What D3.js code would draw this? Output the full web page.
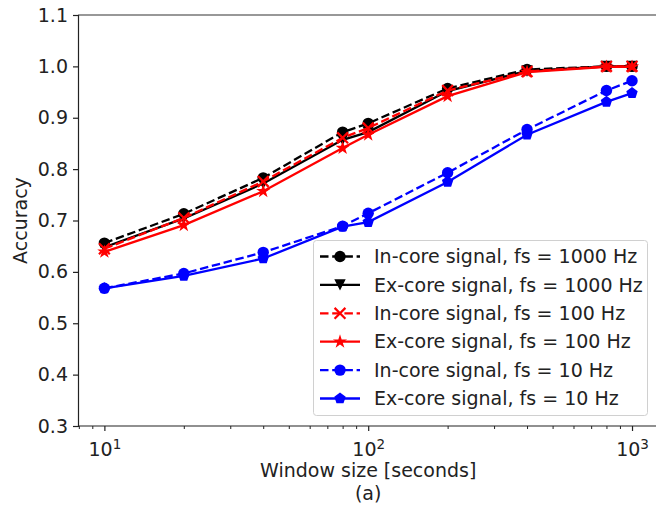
<!DOCTYPE html>
<html>
<head>
<meta charset="utf-8">
<script src="https://cdn.jsdelivr.net/npm/d3@7"></script>
<style>
  html, body { margin: 0; padding: 0; background: #fff; }
  svg { display: block; font-family: "DejaVu Sans", sans-serif; }
</style>
</head>
<body>
<svg id="chart" width="656" height="509"></svg>
<script>
// Window sizes in seconds
const windowSizes = [10, 20, 40, 80, 100, 200, 400, 800, 1000];

// Accuracy for each signal / sampling-rate combination
const inCore1000 = [0.656, 0.713, 0.783, 0.872, 0.889, 0.957, 0.994, 1.000, 1.000];
const exCore1000 = [0.648, 0.704, 0.772, 0.857, 0.872, 0.952, 0.991, 1.000, 1.000];
const inCore100  = [0.645, 0.705, 0.776, 0.861, 0.880, 0.953, 0.990, 1.000, 1.000];
const exCore100  = [0.639, 0.691, 0.757, 0.841, 0.867, 0.942, 0.989, 0.999, 0.999];
const inCore10   = [0.568, 0.597, 0.638, 0.689, 0.714, 0.793, 0.877, 0.953, 0.972];
const exCore10   = [0.568, 0.592, 0.626, 0.688, 0.697, 0.775, 0.867, 0.931, 0.948];

const seriesNames = [
  "In-core signal, fs = 1000 Hz",
  "Ex-core signal, fs = 1000 Hz",
  "In-core signal, fs = 100 Hz",
  "Ex-core signal, fs = 100 Hz",
  "In-core signal, fs = 10 Hz",
  "Ex-core signal, fs = 10 Hz"
];
const seriesValues = [inCore1000, exCore1000, inCore100, exCore100, inCore10, exCore10];

const yTicks = [0.3, 0.4, 0.5, 0.6, 0.7, 0.8, 0.9, 1.0, 1.1];
const xTicks = [10, 100, 1000];
const xMinorTicks = [8, 9, 20, 30, 40, 50, 60, 70, 80, 90, 200, 300, 400, 500, 600, 700, 800, 900];

const styles = [
  { color: "#000000", dashed: true,  marker: "circle" },
  { color: "#000000", dashed: false, marker: "triangleDown" },
  { color: "#ff0000", dashed: true,  marker: "x" },
  { color: "#ff0000", dashed: false, marker: "star" },
  { color: "#0000ff", dashed: true,  marker: "circle" },
  { color: "#0000ff", dashed: false, marker: "pentagon" }
];

const svg = d3.select("#chart");
const plot = { left: 78, right: 658.4, top: 15, bottom: 426 };
const fontSize = 19;

const x = d3.scaleLog().domain([Math.pow(10, 0.9), Math.pow(10, 3.1)]).range([plot.left, plot.right]);
const y = d3.scaleLinear().domain([0.3, 1.1]).range([plot.bottom, plot.top]);

svg.append("defs").append("clipPath").attr("id", "plotClip")
  .append("rect")
  .attr("x", plot.left).attr("y", plot.top - 6)
  .attr("width", plot.right - plot.left).attr("height", plot.bottom - plot.top + 6);

const dashPattern = "8.5,3.7";
const lw = 2.3;

function drawMarker(g, type, cx, cy, color) {
  const s = 5.7;
  if (type === "circle") {
    g.append("circle").attr("cx", cx).attr("cy", cy).attr("r", s).attr("fill", color);
  } else if (type === "triangleDown") {
    g.append("path")
      .attr("d", `M${cx - s},${cy - s}L${cx + s},${cy - s}L${cx},${cy + s}Z`)
      .attr("fill", color);
  } else if (type === "x") {
    const d = s * 0.95;
    g.append("path")
      .attr("d", `M${cx - d},${cy - d}L${cx + d},${cy + d}M${cx - d},${cy + d}L${cx + d},${cy - d}`)
      .attr("stroke", color).attr("stroke-width", 2.2).attr("fill", "none");
  } else if (type === "star") {
    g.append("path")
      .attr("d", d3.symbol().type(d3.symbolStar).size(62)())
      .attr("transform", `translate(${cx},${cy})`)
      .attr("fill", color);
  } else if (type === "pentagon") {
    const pts = d3.range(5).map(i => {
      const a = -Math.PI / 2 + i * 2 * Math.PI / 5;
      return [cx + s * 1.05 * Math.cos(a), cy + s * 1.05 * Math.sin(a)];
    });
    g.append("path").attr("d", "M" + pts.join("L") + "Z").attr("fill", color);
  }
}

// Series lines and markers
const dataLayer = svg.append("g").attr("clip-path", "url(#plotClip)");
const line = d3.line().x(d => x(d[0])).y(d => y(d[1]));

seriesValues.forEach((vals, i) => {
  const st = styles[i];
  const pts = windowSizes.map((w, j) => [w, vals[j]]);
  const g = dataLayer.append("g");
  g.append("path")
    .datum(pts)
    .attr("d", line)
    .attr("fill", "none")
    .attr("stroke", st.color)
    .attr("stroke-width", lw)
    .attr("stroke-dasharray", st.dashed ? dashPattern : null);
  pts.forEach(p => drawMarker(g, st.marker, x(p[0]), y(p[1]), st.color));
});

// Spines
svg.append("line").attr("x1", plot.left).attr("x2", plot.right).attr("y1", plot.top).attr("y2", plot.top)
  .attr("stroke", "#333").attr("stroke-width", 1.2);
svg.append("line").attr("x1", plot.right).attr("x2", plot.right).attr("y1", plot.top).attr("y2", plot.bottom)
  .attr("stroke", "#333").attr("stroke-width", 1.2);

// Y axis
const yAxis = d3.axisLeft(y).tickValues(yTicks).tickFormat(d3.format(".1f")).tickSize(5).tickPadding(5);
const yg = svg.append("g").attr("transform", `translate(${plot.left},0)`).call(yAxis);
yg.select(".domain").attr("stroke", "#222").attr("stroke-width", 1.2);
yg.selectAll(".tick line").attr("stroke", "#222").attr("stroke-width", 1.2);
yg.selectAll(".tick text").attr("font-size", fontSize).attr("fill", "#222").attr("font-family", "DejaVu Sans");

// X axis (log) with superscript exponents
const xAxis = d3.axisBottom(x).tickValues(xTicks).tickFormat("").tickSize(5);
const xg = svg.append("g").attr("transform", `translate(0,${plot.bottom})`).call(xAxis);
xg.select(".domain").attr("stroke", "#222").attr("stroke-width", 1.2).attr("d", `M${plot.left},0H${plot.right}`);
xg.selectAll(".tick line").attr("stroke", "#222").attr("stroke-width", 1.2);
xg.selectAll(".tick").each(function(d) {
  const t = d3.select(this).append("text")
    .attr("y", 30).attr("text-anchor", "middle")
    .attr("fill", "#222").attr("font-size", fontSize).attr("font-family", "DejaVu Sans");
  t.append("tspan").text("10");
  t.append("tspan").attr("dy", -7).attr("font-size", 13.5).text(String(Math.round(Math.log10(d))));
});
const xMinor = d3.axisBottom(x).tickValues(xMinorTicks).tickFormat("").tickSize(3);
const xmg = svg.append("g").attr("transform", `translate(0,${plot.bottom})`).call(xMinor);
xmg.select(".domain").remove();
xmg.selectAll(".tick line").attr("stroke", "#222");

// Axis titles
svg.append("text")
  .attr("x", (x(10) + x(1000)) / 2).attr("y", 477)
  .attr("text-anchor", "middle").attr("font-size", fontSize).attr("fill", "#222")
  .text("Window size [seconds]");
svg.append("text")
  .attr("x", (x(10) + x(1000)) / 2).attr("y", 500)
  .attr("text-anchor", "middle").attr("font-size", fontSize).attr("fill", "#222")
  .text("(a)");
svg.append("text")
  .attr("transform", `translate(27,${(plot.top + plot.bottom) / 2}) rotate(-90)`)
  .attr("text-anchor", "middle").attr("font-size", fontSize).attr("fill", "#222")
  .text("Accuracy");

// Legend
const legend = svg.append("g");
legend.append("rect")
  .attr("x", 313.5).attr("y", 240.5).attr("width", 334).attr("height", 175)
  .attr("rx", 3).attr("fill", "#fff").attr("fill-opacity", 0.85)
  .attr("stroke", "#d0d0d0").attr("stroke-width", 1);
seriesNames.forEach((name, i) => {
  const st = styles[i];
  const ly = 256.5 + i * 28.4;
  const g = legend.append("g");
  g.append("line")
    .attr("x1", 320).attr("x2", 360).attr("y1", ly).attr("y2", ly)
    .attr("stroke", st.color).attr("stroke-width", lw)
    .attr("stroke-dasharray", st.dashed ? dashPattern : null);
  drawMarker(g, st.marker, 340, ly, st.color);
  g.append("text")
    .attr("x", 374).attr("y", ly).attr("dy", "0.35em")
    .attr("font-size", fontSize).attr("fill", "#222")
    .text(name);
});
</script>
</body>
</html>
